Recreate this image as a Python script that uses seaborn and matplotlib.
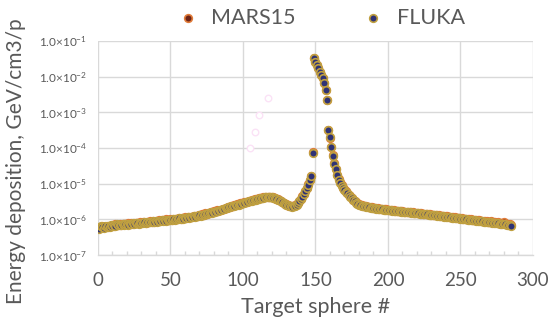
import numpy as np
import pandas as pd
import matplotlib
matplotlib.use("Agg")
import matplotlib.pyplot as plt
import seaborn as sns
from matplotlib.ticker import FixedLocator, MultipleLocator, NullLocator

sns.set_theme(style="white")
plt.rcParams['font.family'] = ['Lato', 'DejaVu Sans']
plt.rcParams['mathtext.fontset'] = 'custom'
plt.rcParams['mathtext.rm'] = 'Lato'
plt.rcParams['mathtext.it'] = 'Lato'

# ---- data (energy deposition, units of 1e-6 GeV/cm3/p), sphere 1..285 ----
fluka_e6 = [
    0.55, 0.66, 0.62, 0.58, 0.64, 0.61, 0.66, 0.63, 0.68, 0.65,
    0.70, 0.66, 0.72, 0.68, 0.71, 0.69, 0.74, 0.70, 0.72, 0.75,
    0.71, 0.76, 0.73, 0.78, 0.74, 0.77, 0.80, 0.76, 0.79, 0.81,
    0.78, 0.83, 0.80, 0.84, 0.82, 0.86, 0.83, 0.88, 0.85, 0.89,
    0.87, 0.91, 0.88, 0.93, 0.90, 0.95, 0.92, 0.97, 0.94, 0.99,
    0.96, 1.01, 0.98, 1.03, 1.00, 1.06, 1.02, 1.08, 1.05, 1.10,
    1.08, 1.13, 1.10, 1.17, 1.14, 1.21, 1.18, 1.25, 1.22, 1.30,
    1.28, 1.36, 1.33, 1.42, 1.40, 1.49, 1.47, 1.56, 1.55, 1.64,
    1.63, 1.73, 1.72, 1.82, 1.82, 1.93, 1.93, 2.04, 2.05, 2.17,
    2.18, 2.30, 2.32, 2.44, 2.46, 2.58, 2.60, 2.72, 2.75, 2.88,
    2.92, 3.04, 3.08, 3.20, 3.25, 3.36, 3.42, 3.52, 3.60, 3.70,
    3.78, 3.88, 3.95, 4.05, 4.10, 4.18, 4.20, 4.22, 4.18, 4.12,
    4.02, 3.90, 3.75, 3.58, 3.40, 3.22, 3.05, 2.88, 2.72, 2.58,
    2.45, 2.36, 2.30, 2.28, 2.32, 2.42, 2.60, 2.85, 3.20, 3.65,
    4.30, 5.10, 6.20, 7.60, 9.40, 12.5, 16.0, 72.0,
    33100, 25700, 21400, 17400, 13500, 11200, 9100, 6600, 4270, 2240,
    324, 200, 110, 60, 36, 25, 17, 13, 10.5, 8.8,
    7.6, 6.7, 6.0, 5.4, 4.8, 4.3, 3.9, 3.5, 3.2, 2.95,
    2.75, 2.60, 2.50, 2.42, 2.36, 2.30, 2.26, 2.21, 2.17, 2.13,
    2.10, 2.06, 2.03, 2.00, 1.98, 1.95, 1.93, 1.90, 1.88, 1.86,
    1.84, 1.82, 1.80, 1.78, 1.76, 1.74, 1.72, 1.70, 1.69, 1.67,
    1.65, 1.64, 1.62, 1.60, 1.59, 1.57, 1.56, 1.54, 1.53, 1.51,
    1.50, 1.48, 1.47, 1.45, 1.44, 1.42, 1.41, 1.39, 1.38, 1.36,
    1.35, 1.33, 1.32, 1.30, 1.29, 1.27, 1.26, 1.24, 1.23, 1.21,
    1.20, 1.18, 1.17, 1.15, 1.14, 1.12, 1.11, 1.10, 1.08, 1.07,
    1.06, 1.05, 1.03, 1.02, 1.01, 1.00, 0.99, 0.97, 0.96, 0.95,
    0.94, 0.93, 0.92, 0.91, 0.90, 0.89, 0.88, 0.87, 0.86, 0.85,
    0.84, 0.83, 0.82, 0.81, 0.80, 0.79, 0.78, 0.77, 0.76, 0.75,
    0.74, 0.73, 0.72, 0.71, 0.70, 0.69, 0.67,
]

mars15_e6 = [
    0.58, 0.62, 0.65, 0.60, 0.61, 0.66, 0.62, 0.67, 0.64, 0.70,
    0.67, 0.73, 0.69, 0.70, 0.74, 0.71, 0.72, 0.76, 0.73, 0.74,
    0.77, 0.74, 0.79, 0.75, 0.78, 0.81, 0.77, 0.80, 0.83, 0.79,
    0.82, 0.85, 0.81, 0.86, 0.84, 0.88, 0.85, 0.90, 0.87, 0.92,
    0.89, 0.93, 0.91, 0.96, 0.93, 0.98, 1.05, 0.99, 0.96, 1.02,
    0.98, 1.04, 1.00, 1.05, 1.03, 1.08, 1.04, 1.11, 1.07, 1.13,
    1.11, 1.16, 1.13, 1.20, 1.16, 1.24, 1.21, 1.28, 1.25, 1.33,
    1.31, 1.40, 1.36, 1.46, 1.43, 1.53, 1.50, 1.60, 1.59, 1.69,
    1.67, 1.78, 1.76, 1.87, 1.86, 1.98, 1.98, 2.10, 2.11, 2.23,
    2.24, 2.36, 2.38, 2.50, 2.52, 2.64, 2.67, 2.79, 2.82, 2.95,
    2.99, 3.11, 3.15, 3.28, 3.33, 3.44, 3.50, 3.61, 3.68, 3.79,
    3.86, 3.96, 4.05, 4.14, 4.20, 4.30, 4.32, 4.35, 4.28, 4.22,
    4.10, 3.98, 3.82, 3.66, 3.47, 3.30, 3.12, 2.95, 2.78, 2.64,
    2.51, 2.41, 2.35, 2.33, 2.37, 2.48, 2.66, 2.92, 3.28, 3.75,
    4.42, 5.25, 6.35, 7.80, 9.70, 12.9, 16.5, 75.0,
    32600, 25200, 21000, 17100, 13300, 11000, 8900, 6500, 4200, 2200,
    318, 196, 108, 62, 37, 26, 17.5, 13.4, 10.8, 9.0,
    7.8, 6.9, 6.2, 5.5, 4.9, 4.4, 4.0, 3.6, 3.3, 3.05,
    2.84, 2.68, 2.58, 2.49, 2.43, 2.37, 2.32, 2.27, 2.23, 2.19,
    2.15, 2.11, 2.08, 2.05, 2.03, 2.00, 1.98, 1.95, 1.93, 1.91,
    1.89, 1.86, 1.85, 1.82, 1.81, 1.78, 1.77, 1.74, 1.73, 1.71,
    1.70, 1.67, 1.66, 1.64, 1.63, 1.60, 1.60, 1.57, 1.57, 1.54,
    1.54, 1.51, 1.51, 1.48, 1.48, 1.45, 1.45, 1.42, 1.42, 1.39,
    1.39, 1.36, 1.36, 1.33, 1.33, 1.30, 1.30, 1.27, 1.27, 1.24,
    1.24, 1.21, 1.21, 1.18, 1.18, 1.15, 1.15, 1.13, 1.12, 1.10,
    1.10, 1.08, 1.07, 1.05, 1.05, 1.03, 1.02, 1.00, 1.00, 0.98,
    0.97, 0.96, 0.95, 0.94, 0.93, 0.92, 0.91, 0.90, 0.89, 0.88,
    0.87, 0.86, 0.88, 0.84, 0.83, 0.82, 0.81, 0.84, 0.79, 0.78,
    0.77, 0.82, 0.75, 0.74, 0.73, 0.72, 0.70,
]

faint_sphere = [105, 108, 111, 117]
faint_e6 = [100, 280, 850, 2500]

series_names = ["MARS15", "FLUKA"]
x_ticks = [0, 50, 100, 150, 200, 250, 300]
y_ticks = [1e-7, 1e-6, 1e-5, 1e-4, 1e-3, 1e-2, 1e-1]
y_labels = [r"$1.0{\times}10^{-7}$", r"$1.0{\times}10^{-6}$", r"$1.0{\times}10^{-5}$",
            r"$1.0{\times}10^{-4}$", r"$1.0{\times}10^{-3}$", r"$1.0{\times}10^{-2}$",
            r"$1.0{\times}10^{-1}$"]

spheres = np.arange(1, len(fluka_e6) + 1)
df = pd.concat([
    pd.DataFrame({"sphere": np.arange(1, len(mars15_e6) + 1),
                  "edep": np.array(mars15_e6) * 1e-6, "code": "MARS15"}),
    pd.DataFrame({"sphere": spheres,
                  "edep": np.array(fluka_e6) * 1e-6, "code": "FLUKA"}),
])
faint_df = pd.DataFrame({"sphere": faint_sphere, "edep": np.array(faint_e6) * 1e-6})

fig = plt.figure(figsize=(5.5, 3.2), dpi=100)
ax = fig.add_axes([0.178, 0.203, 0.791, 0.669])

gray = "#595959"
grid = "#d9d9d9"

sns.scatterplot(data=faint_df, x="sphere", y="edep", ax=ax, s=22,
                facecolor="white", edgecolor="#fbe2f6", linewidth=1.0,
                legend=False, zorder=2)

styles = {"MARS15": ("#6e2416", "#e07b39"), "FLUKA": ("#2f3275", "#c0a040")}
for name in series_names:
    face, edge = styles[name]
    sub = df[df["code"] == name]
    sns.scatterplot(data=sub, x="sphere", y="edep", ax=ax, s=30,
                    color=face, edgecolor=edge, linewidth=1.2,
                    label=name, zorder=3)

ax.set_yscale("log")
ax.set_xlim(0, 300)
ax.set_ylim(1e-7, 1e-1)
ax.xaxis.set_major_locator(FixedLocator(x_ticks))
ax.xaxis.set_minor_locator(MultipleLocator(10))
ax.yaxis.set_major_locator(FixedLocator(y_ticks))
ax.yaxis.set_minor_locator(NullLocator())
ax.set_yticklabels(y_labels)
ax.set_xticklabels([str(v) for v in x_ticks])

ax.grid(True, which="major", color=grid, linewidth=1.0, zorder=0)
ax.set_axisbelow(True)
for side in ["top", "right", "left"]:
    ax.spines[side].set_visible(False)
ax.spines["bottom"].set_color(grid)
ax.spines["bottom"].set_linewidth(1.0)

ax.tick_params(axis="x", which="major", length=0, pad=12, labelsize=13.5, labelcolor=gray)
ax.tick_params(axis="x", which="minor", direction="in", length=3, color=grid, width=1.0,
               bottom=True)
ax.tick_params(axis="y", which="major", length=0, pad=8, labelsize=8.5, labelcolor=gray)

ax.set_xlabel("Target sphere #", fontsize=15.5, color=gray, labelpad=6)
ax.set_ylabel("Energy deposition, GeV/cm3/p", fontsize=15, color=gray)
ax.yaxis.set_label_coords(-0.165, 0.44)

leg = ax.legend(loc="lower center", bbox_to_anchor=(0.5, 1.0), ncol=2, frameon=False,
                fontsize=15.5, handletextpad=0.1, columnspacing=2.6, markerscale=1.0,
                borderaxespad=0.2)
for t in leg.get_texts():
    t.set_color(gray)

fig.savefig("out.png", dpi=100)
